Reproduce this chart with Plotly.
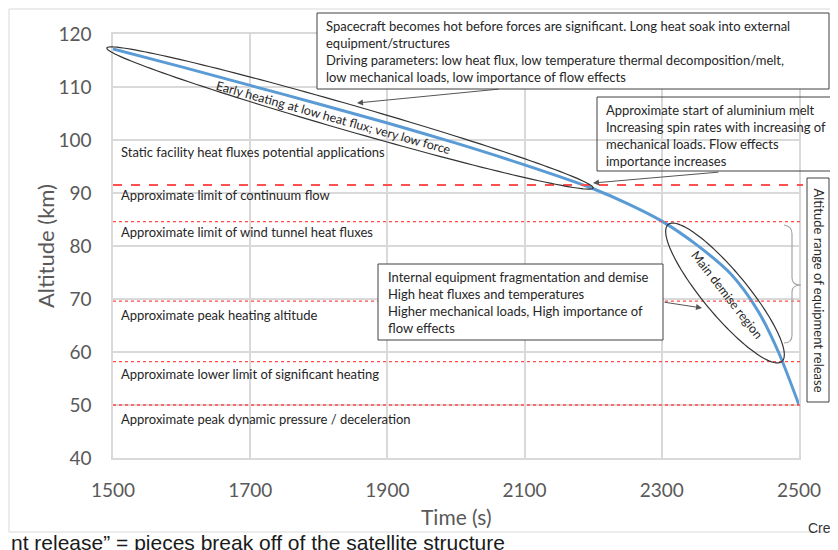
import math
import plotly.graph_objects as go

# ---------------- data ----------------
time_s = [1500, 1600, 1700, 1800, 1900, 2000, 2100, 2200, 2250, 2300, 2350, 2400, 2440, 2470, 2500]
altitude_km = [117.2, 113.8, 110.3, 106.8, 103.2, 99.4, 95.3, 90.8, 88.0, 84.7, 80.3, 74.8, 67.8, 60.0, 50.0]

x_ticks = [1500, 1700, 1900, 2100, 2300, 2500]
y_ticks = [40, 50, 60, 70, 80, 90, 100, 110, 120]

continuum_alt = 91.5
dotted_alts = [84.6, 69.6, 58.2, 50.0]

level_labels = [
    "Static facility heat fluxes potential applications",
    "Approximate limit of continuum flow",
    "Approximate limit of wind tunnel heat fluxes",
    "Approximate peak heating altitude",
    "Approximate lower limit of significant heating",
    "Approximate peak dynamic pressure / deceleration",
]

box1_text = ("Spacecraft becomes hot before forces are significant. Long heat soak into external<br>"
             "equipment/structures<br>"
             "Driving parameters: low heat flux, low temperature thermal decomposition/melt,<br>"
             "low mechanical loads, low importance of flow effects")
box2_text = ("Approximate start of aluminium melt<br>"
             "Increasing spin rates with increasing of<br>"
             "mechanical loads. Flow effects<br>"
             "importance increases")
box3_text = ("Internal equipment fragmentation and demise<br>"
             "High heat fluxes and temperatures<br>"
             "Higher mechanical loads, High importance of<br>"
             "flow effects")
box4_text = "Altitude range of equipment release"
early_text = "Early heating at low heat flux; very low force"
demise_text = "Main demise region"
footer_text = "nt release\u201d = pieces break off of the satellite structure"
corner_text = "Cre"

# ---------------- geometry helpers (page pixel -> paper) ----------------
OFF = 8                      # default page margin of the html body
FIG_W, FIG_H = 838 - OFF, 550 - OFF
L, R, T, B = 113, 799, 34, 458   # plot area in page pixels
W, H = R - L, B - T


def P(px, py):
    return (px - L) / W, (B - py) / H


def ellipse_path(cx, cy, a, b, deg, n=160):
    th = math.radians(deg)
    pts = []
    for i in range(n):
        u = 2 * math.pi * i / n
        x = cx + a * math.cos(u) * math.cos(th) - b * math.sin(u) * math.sin(th)
        y = cy + a * math.cos(u) * math.sin(th) + b * math.sin(u) * math.cos(th)
        pts.append(P(x, y))
    return "M " + " L ".join(f"{x:.5f},{y:.5f}" for x, y in pts) + " Z"


def rect(x0, y0, x1, y1, fill=None, color="#404040", width=1):
    a = P(x0, y0)
    b = P(x1, y1)
    d = dict(type="rect", xref="paper", yref="paper", x0=a[0], y0=b[1], x1=b[0], y1=a[1],
             line=dict(color=color, width=width), layer="above")
    d["fillcolor"] = fill if fill else "rgba(0,0,0,0)"
    return d


FONT = "Lato, Carlito, Calibri, sans-serif"
TXT = "#262626"
GRID = "#d9d9d9"

fig = go.Figure()
fig.add_trace(go.Scatter(
    x=time_s, y=altitude_km, mode="lines",
    line=dict(color="#5B9BD5", width=3, shape="spline", smoothing=0.8),
    showlegend=False, hoverinfo="skip"))

shapes = []
# outer frame
shapes.append(rect(9, 9, 870, 532, color=GRID, width=1))
# limit lines
xend = P(803, 0)[0]
shapes.append(dict(type="line", xref="paper", yref="y", x0=0, x1=xend, y0=continuum_alt, y1=continuum_alt,
                   line=dict(color="#FF5050", width=2, dash="dash"), layer="above"))
for a in dotted_alts:
    shapes.append(dict(type="line", xref="paper", yref="y", x0=0, x1=xend, y0=a, y1=a,
                       line=dict(color="#FF4A4A", width=1.3, dash="dot"), layer="above"))
# ellipses
shapes.append(dict(type="path", xref="paper", yref="paper", path=ellipse_path(350, 118, 253, 13, 16.07),
                   line=dict(color="#333333", width=1.2), layer="above"))
shapes.append(dict(type="path", xref="paper", yref="paper", path=ellipse_path(725, 293, 89, 22, 50.3),
                   line=dict(color="#333333", width=1.2), layer="above"))
# boxes
shapes.append(rect(317, 13, 829, 89, fill="white"))
shapes.append(rect(597, 97, 860, 171))
shapes.append(rect(378, 264, 663, 340, fill="white"))
shapes.append(rect(807, 178, 829, 402, fill="white"))
# brace
bp = [P(784, 225), P(792, 226), P(792, 234), P(792, 278), P(792, 285), P(801, 285),
      P(792, 285), P(792, 292), P(792, 335), P(792, 343), P(784, 343)]
brace = ("M {0[0]:.5f},{0[1]:.5f} Q {1[0]:.5f},{1[1]:.5f} {2[0]:.5f},{2[1]:.5f} L {3[0]:.5f},{3[1]:.5f} "
         "Q {4[0]:.5f},{4[1]:.5f} {5[0]:.5f},{5[1]:.5f} Q {6[0]:.5f},{6[1]:.5f} {7[0]:.5f},{7[1]:.5f} "
         "L {8[0]:.5f},{8[1]:.5f} Q {9[0]:.5f},{9[1]:.5f} {10[0]:.5f},{10[1]:.5f}").format(*bp)
shapes.append(dict(type="path", xref="paper", yref="paper", path=brace,
                   line=dict(color="#a6a6a6", width=1.2), layer="above"))

ann = []


def text_at(px, py, text, size=12.5, xanchor="left", yanchor="middle", angle=0, color=TXT, family=FONT, align="left"):
    x, y = P(px, py)
    ann.append(dict(xref="paper", yref="paper", x=x, y=y, text=text, showarrow=False,
                    xanchor=xanchor, yanchor=yanchor, textangle=angle, align=align,
                    font=dict(size=size, color=color, family=family)))


label_y = [152, 195, 231.7, 315, 373.5, 419]
for t, yy in zip(level_labels, label_y):
    text_at(119, yy, t, size=13)

text_at(324, 16, box1_text, size=13, yanchor="top")
text_at(604, 99.5, box2_text, size=13, yanchor="top")
text_at(386, 267, box3_text, size=13, yanchor="top")
text_at(818.5, 290, box4_text, size=13, xanchor="center", angle=90)
text_at(333, 118, early_text, size=12.5, xanchor="center", angle=15.5)
text_at(727, 294, demise_text, size=12.5, xanchor="center", angle=52)

# axis titles
text_at(45, 246, "Altitude (km)", size=22, xanchor="center", angle=-90, color="#595959")
text_at(456, 516, "Time (s)", size=21, xanchor="center", color="#595959")

# footer
text_at(9, 542, footer_text, size=21, color="#1a1a1a", family="Liberation Sans, Arial, sans-serif")
text_at(806, 528, corner_text, size=14, color="#333333", family="Liberation Sans, Arial, sans-serif")

# arrows (head -> tail offsets in pixels)
for hx, hy, tx, ty in [(357, 103, 500, 89), (593, 183, 720, 172), (702, 308, 663, 302)]:
    x, y = P(hx, hy)
    ann.append(dict(xref="paper", yref="paper", x=x, y=y, ax=tx - hx, ay=ty - hy, text="",
                    showarrow=True, arrowhead=2, arrowsize=1.2, arrowwidth=1, arrowcolor="#555555"))

axis_common = dict(showgrid=True, gridcolor=GRID, gridwidth=1.5, showline=True, linecolor=GRID,
                   linewidth=1.5, mirror=True, zeroline=False,
                   tickfont=dict(size=19, color="#595959", family=FONT))

fig.update_layout(
    width=FIG_W, height=FIG_H,
    margin=dict(l=L - OFF, r=FIG_W - (R - OFF), t=T - OFF, b=FIG_H - (B - OFF)),
    paper_bgcolor="white", plot_bgcolor="white",
    xaxis=dict(range=[1500, 2500], tickvals=x_ticks, ticklabelstandoff=14, **axis_common),
    yaxis=dict(range=[40, 120], tickvals=y_ticks, ticklabelstandoff=16, **axis_common),
    shapes=shapes, annotations=ann, showlegend=False,
)

fig.write_html("out.html")
